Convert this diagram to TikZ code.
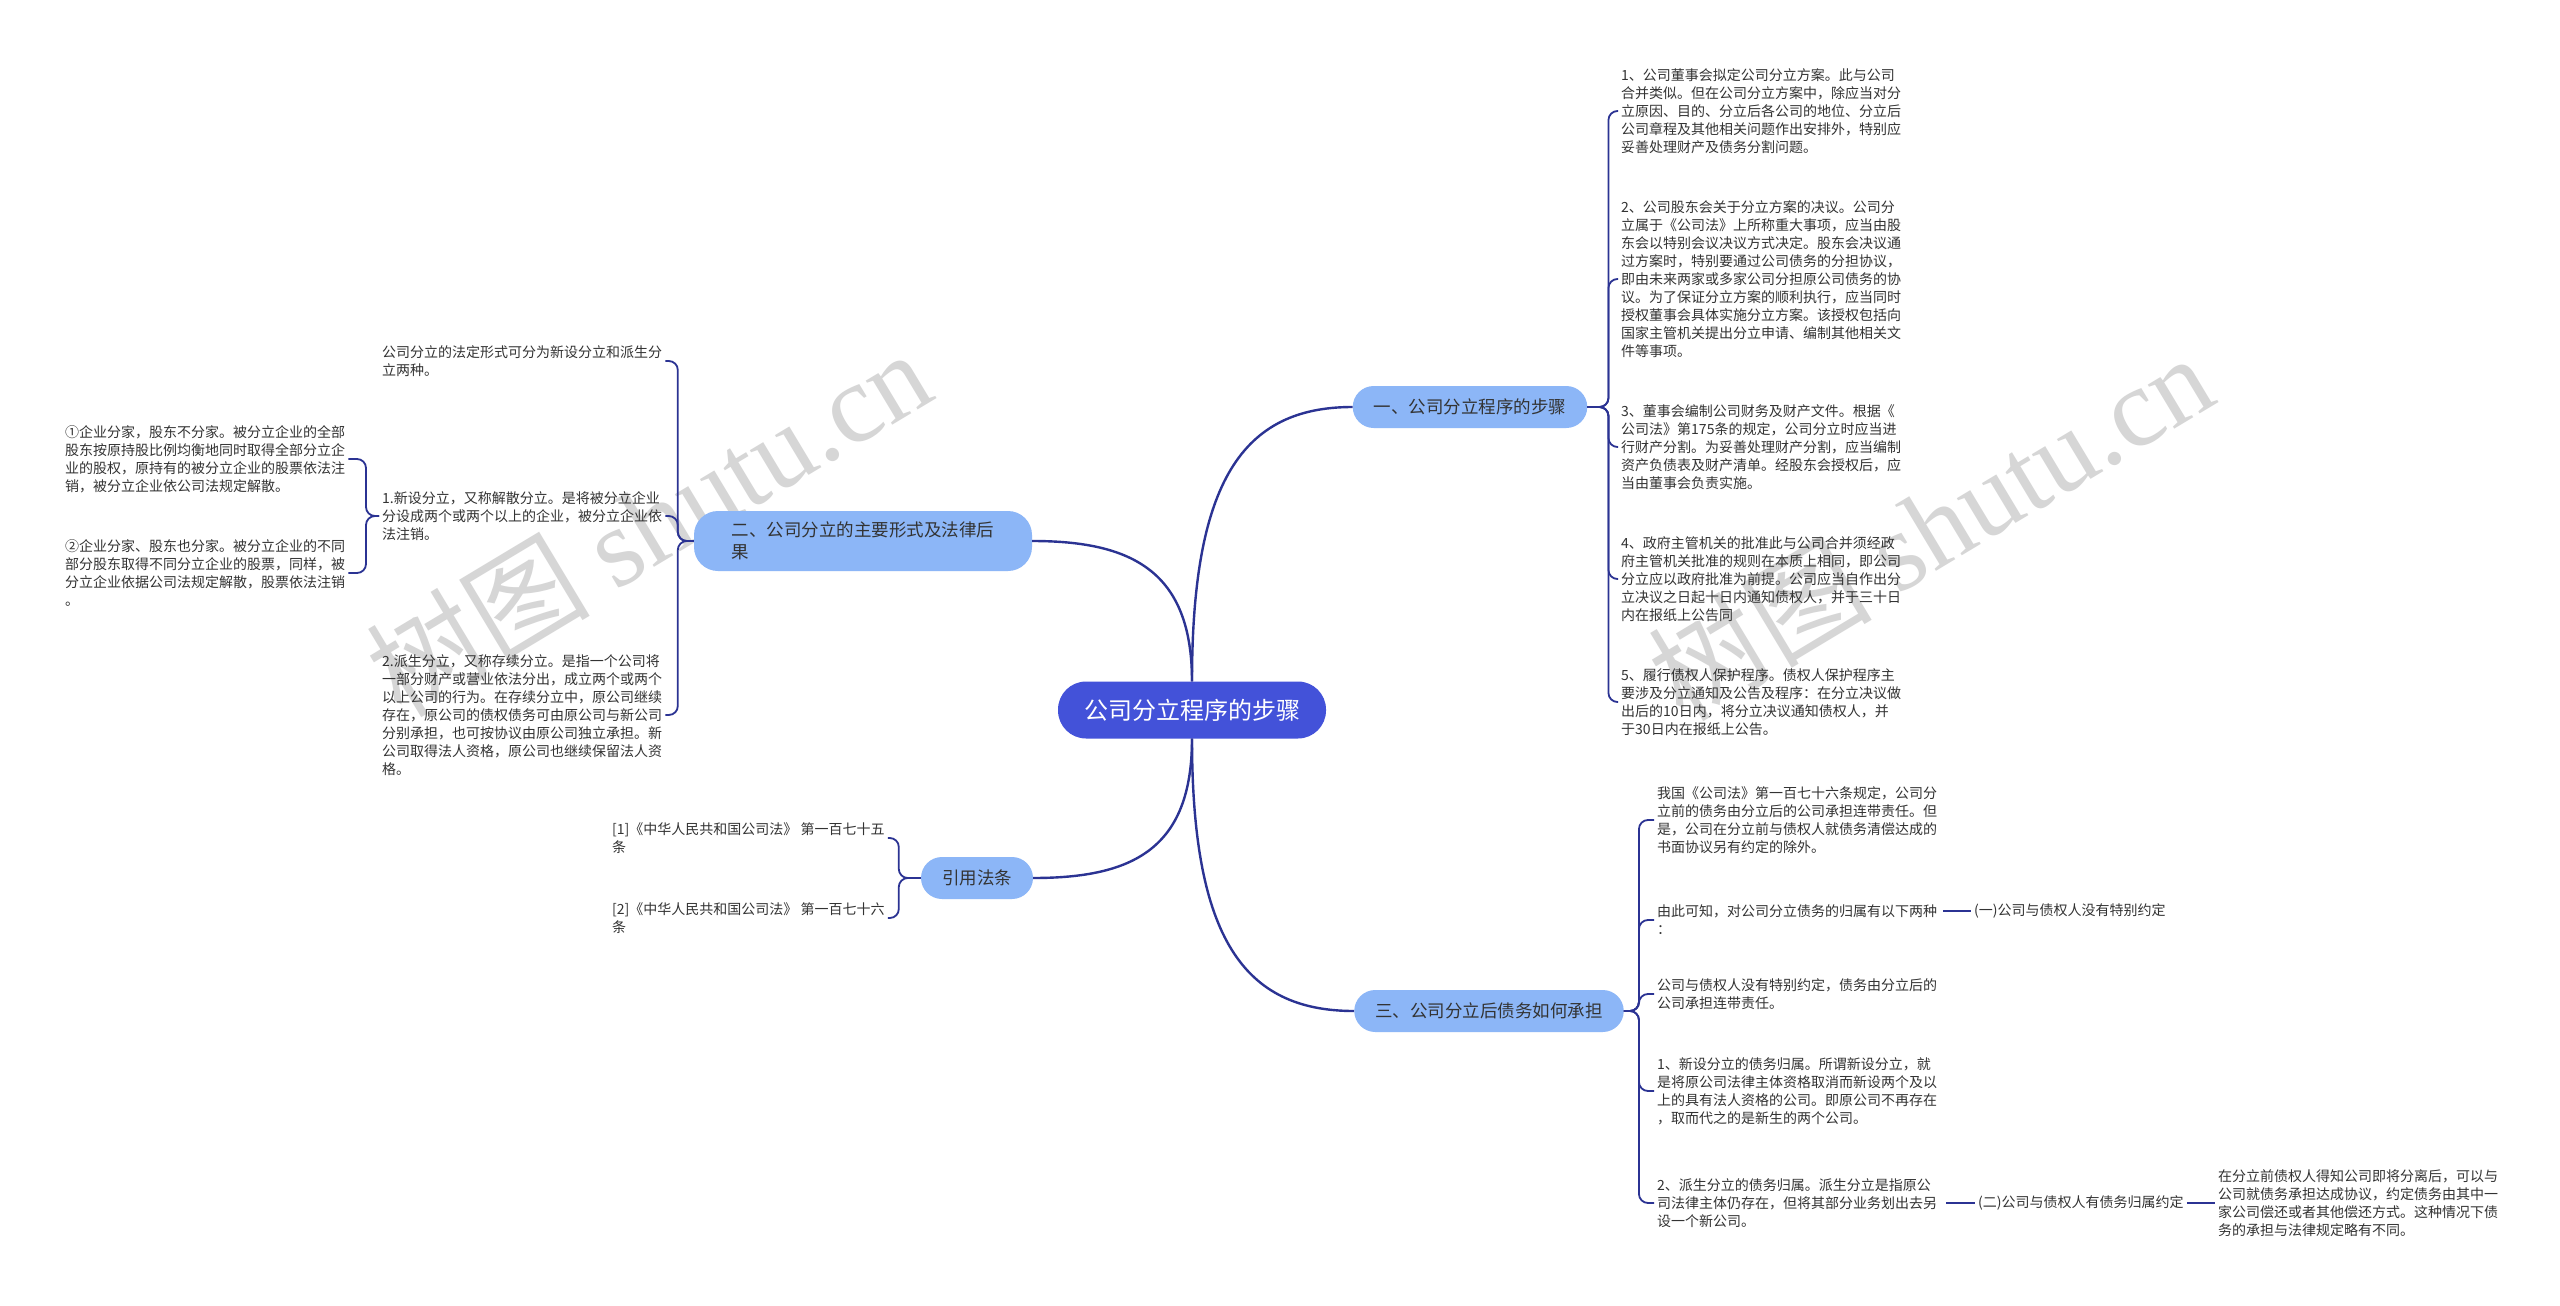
\documentclass[tikz,border=0pt]{standalone}
\usepackage{fontspec}
\setmainfont{Noto Sans CJK SC}
\newfontfamily\wmfont{Liberation Serif}
\usepackage{tikz}
\usetikzlibrary{positioning}
\definecolor{cRoot}{HTML}{4352D9}
\definecolor{cTopic}{HTML}{8CB6F7}
\definecolor{cLine}{HTML}{2B3393}
\definecolor{cText}{HTML}{333333}
\definecolor{cMark}{HTML}{D6D6D6}
\tikzset{
  root/.style  = {rectangle, rounded corners=28pt, fill=cRoot, text=white,
                  minimum width=268pt, minimum height=57pt, inner sep=0pt,
                  font=\fontsize{24}{28}\selectfont},
  topic/.style = {rectangle, rounded corners=21pt, fill=cTopic, text=cText,
                  minimum height=42pt, inner xsep=21pt, inner ysep=4pt, align=left,
                  font=\fontsize{17.5}{22}\selectfont},
  leaf/.style  = {align=left, inner sep=3pt, text=cText,
                  font=\fontsize{14}{18}\selectfont},
  main/.style  = {draw=cLine, line width=2.4pt},
  br/.style    = {draw=cLine, line width=1.8pt, rounded corners=9pt},
  lnk/.style   = {draw=cLine, line width=1.8pt},
  wmark/.style = {text=cMark, rotate=31, inner sep=0pt},
}
\newcommand{\shutumark}{{\fontsize{112}{112}\selectfont 树图 {\wmfont shutu.cn}}}

\begin{document}
\begin{tikzpicture}[x=1pt, y=-1pt]
  \fill[white] (0,0) rectangle (2560,1306);
  \useasboundingbox (0,0) rectangle (2560,1306);

  % watermark
  \node[wmark] (wmA) at (648,522) {\shutumark};
  \node[wmark] (wmB) at (1930,526) {\shutumark};

  \node[root] (root) at (1192,710) {公司分立程序的步骤};

  \node[topic] (b1) at (1470,407) {一、公司分立程序的步骤};
  \node[topic, minimum width=338pt, minimum height=60pt, rounded corners=24pt] (b2) at (863,541)
    {二、公司分立的主要形式及法律后\\果};
  \node[topic] (cite) at (977,878) {引用法条};
  \node[topic] (b3) at (1489,1011) {三、公司分立后债务如何承担};

  % 一
  \node[leaf, anchor=west] (t1) at (1618,111) {1、公司董事会拟定公司分立方案。此与公司\\合并类似。但在公司分立方案中，除应当对分\\立原因、目的、分立后各公司的地位、分立后\\公司章程及其他相关问题作出安排外，特别应\\妥善处理财产及债务分割问题。};
  \node[leaf, anchor=west] (t2) at (1618,279) {2、公司股东会关于分立方案的决议。公司分\\立属于《公司法》上所称重大事项，应当由股\\东会以特别会议决议方式决定。股东会决议通\\过方案时，特别要通过公司债务的分担协议，\\即由未来两家或多家公司分担原公司债务的协\\议。为了保证分立方案的顺利执行，应当同时\\授权董事会具体实施分立方案。该授权包括向\\国家主管机关提出分立申请、编制其他相关文\\件等事项。};
  \node[leaf, anchor=west] (t3) at (1618,447) {3、董事会编制公司财务及财产文件。根据《\\公司法》第175条的规定，公司分立时应当进\\行财产分割。为妥善处理财产分割，应当编制\\资产负债表及财产清单。经股东会授权后，应\\当由董事会负责实施。};
  \node[leaf, anchor=west] (t4) at (1618,579) {4、政府主管机关的批准此与公司合并须经政\\府主管机关批准的规则在本质上相同，即公司\\分立应以政府批准为前提。公司应当自作出分\\立决议之日起十日内通知债权人，并于三十日\\内在报纸上公告同};
  \node[leaf, anchor=west] (t5) at (1618,702) {5、履行债权人保护程序。债权人保护程序主\\要涉及分立通知及公告及程序：在分立决议做\\出后的10日内，将分立决议通知债权人，并\\于30日内在报纸上公告。};

  % 三
  \node[leaf, anchor=west] (c1) at (1654,820) {我国《公司法》第一百七十六条规定，公司分\\立前的债务由分立后的公司承担连带责任。但\\是，公司在分立前与债权人就债务清偿达成的\\书面协议另有约定的除外。};
  \node[leaf, anchor=west] (c2) at (1654,920) {由此可知，对公司分立债务的归属有以下两种\\：};
  \node[leaf, anchor=west] (c2a) at (1971,911) {(一)公司与债权人没有特别约定};
  \node[leaf, anchor=west] (c3) at (1654,994) {公司与债权人没有特别约定，债务由分立后的\\公司承担连带责任。};
  \node[leaf, anchor=west] (c4) at (1654,1091) {1、新设分立的债务归属。所谓新设分立，就\\是将原公司法律主体资格取消而新设两个及以\\上的具有法人资格的公司。即原公司不再存在\\，取而代之的是新生的两个公司。};
  \node[leaf, anchor=west] (c5) at (1654,1203) {2、派生分立的债务归属。派生分立是指原公\\司法律主体仍存在，但将其部分业务划出去另\\设一个新公司。};
  \node[leaf, anchor=west] (c5a) at (1975,1203) {(二)公司与债权人有债务归属约定};
  \node[leaf, anchor=west] (c5b) at (2215,1203) {在分立前债权人得知公司即将分离后，可以与\\公司就债务承担达成协议，约定债务由其中一\\家公司偿还或者其他偿还方式。这种情况下债\\务的承担与法律规定略有不同。};

  % 二
  \node[leaf, anchor=west] (l1) at (379,361) {公司分立的法定形式可分为新设分立和派生分\\立两种。};
  \node[leaf, anchor=west] (l2) at (379,516) {1.新设分立，又称解散分立。是将被分立企业\\分设成两个或两个以上的企业，被分立企业依\\法注销。};
  \node[leaf, anchor=west] (l3) at (379,715) {2.派生分立，又称存续分立。是指一个公司将\\一部分财产或营业依法分出，成立两个或两个\\以上公司的行为。在存续分立中，原公司继续\\存在，原公司的债权债务可由原公司与新公司\\分别承担，也可按协议由原公司独立承担。新\\公司取得法人资格，原公司也继续保留法人资\\格。};
  \node[leaf, anchor=west] (l2a) at (62,459) {①企业分家，股东不分家。被分立企业的全部\\股东按原持股比例均衡地同时取得全部分立企\\业的股权，原持有的被分立企业的股票依法注\\销，被分立企业依公司法规定解散。};
  \node[leaf, anchor=west] (l2b) at (62,573) {②企业分家、股东也分家。被分立企业的不同\\部分股东取得不同分立企业的股票，同样，被\\分立企业依据公司法规定解散，股票依法注销\\。};

  % 引用法条
  \node[leaf, anchor=west] (r1) at (609,838) {[1]《中华人民共和国公司法》 第一百七十五\\条};
  \node[leaf, anchor=west] (r2) at (609,918) {[2]《中华人民共和国公司法》 第一百七十六\\条};

  % main branches
  \draw[main] (root.north) .. controls +(0,-200) and +(-110,0) .. (b1.west);
  \draw[main] (root.north) .. controls +(0,-110) and +(100,0) .. (b2.east);
  \draw[main] (root.south) .. controls +(0,110) and +(100,0) .. (cite.east);
  \draw[main] (root.south) .. controls +(0,200) and +(-110,0) .. (b3.west);

  \foreach \n in {t1,t2,t3,t4,t5}
    \draw[br] (b1.east) -- ++(21,0) |- (\n.west);
  \foreach \n in {c1,c2,c3,c4,c5}
    \draw[br] (b3.east) -- ++(15,0) |- (\n.west);
  \foreach \n in {l1,l2,l3}
    \draw[br] (b2.west) -- ++(-16,0) |- (\n.east);
  \foreach \n in {l2a,l2b}
    \draw[br] (l2.west) -- ++(-13,0) |- (\n.east);
  \foreach \n in {r1,r2}
    \draw[br] (cite.west) -- ++(-22,0) |- (\n.east);

  \draw[lnk, shorten <=3pt] (c2.east |- c2a.west) -- (c2a.west);
  \draw[lnk, shorten <=6pt] (c5.east) -- (c5a.west);
  \draw[lnk] (c5a.east) -- (c5b.west);
\end{tikzpicture}
\end{document}
